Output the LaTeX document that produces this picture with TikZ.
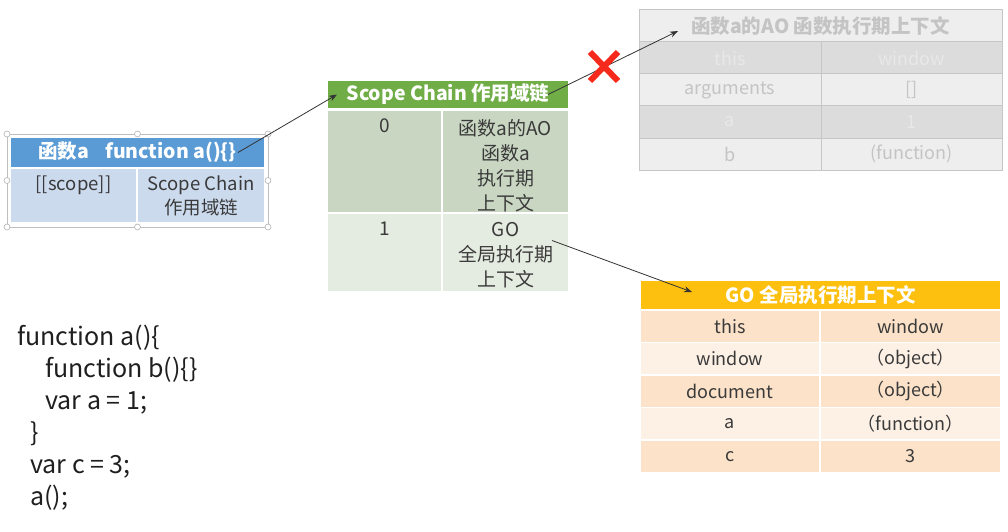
\documentclass[tikz,border=0pt]{standalone}
\usepackage{fontspec}
\setmainfont{Noto Sans CJK SC}
\usetikzlibrary{arrows.meta,positioning}
\definecolor{fablue}{HTML}{5B9BD5}
\definecolor{fabody}{HTML}{CCDAEE}
\definecolor{scgreen}{HTML}{70AD47}
\definecolor{scdark}{HTML}{C9D6C2}
\definecolor{sclight}{HTML}{E4EBE0}
\definecolor{aodark}{HTML}{DCDCDC}
\definecolor{aolight}{HTML}{EEEEEE}
\definecolor{aoline}{HTML}{C6C6C6}
\definecolor{aotext}{HTML}{C4C4C4}
\definecolor{aofaint}{HTML}{E8E8E8}
\definecolor{goyellow}{HTML}{FDC00F}
\definecolor{gopeach}{HTML}{FBE2C8}
\definecolor{golight}{HTML}{FDF1E6}
\definecolor{ink}{HTML}{3A3A3A}
\definecolor{crossred}{HTML}{F5291C}

\tikzset{
  cell/.style={anchor=north west, inner sep=0pt, outer sep=0pt, draw=white, line width=1.5pt, text=ink, font=\fontsize{18}{24}\selectfont},
  head/.style={cell, text=white, font=\fontsize{19.5}{22}\selectfont\bfseries},
  aocell/.style={cell, draw=aoline, line width=1pt},
  lbl/.style={inner sep=0pt, align=center, text=ink, font=\fontsize{19}{25}\selectfont},
  codeline/.style={anchor=base west, inner sep=0pt, text=black!88, font=\fontsize{25}{32}\selectfont},
  arr/.style={-{Stealth[length=8pt,width=6pt]}, draw=black!80, line width=0.8pt},
  handle/.style={circle, draw=black!30, fill=white, inner sep=0pt, minimum size=6pt, line width=0.6pt}
}

\begin{document}
\begin{tikzpicture}[x=1pt,y=-1pt]
\fill[white] (0,0) rectangle (1008,532);
\useasboundingbox (0,0) rectangle (1008,532);

\node[head, fill=fablue, minimum width=255, minimum height=31] (fahead) at (10,137) {函数a\hspace{16pt}function a()\{\}};
\node[cell, fill=fabody, minimum width=127, minimum height=55] (fascope) at (10,168) {};
\node[cell, fill=fabody, minimum width=128, minimum height=55] (fachain) at (137,168) {};
\node[lbl, font=\fontsize{18.5}{24}\selectfont, below=8pt of fascope.north] {[[scope]]};
\node[lbl, font=\fontsize{18.5}{24}\selectfont, below=8pt of fachain.north] {Scope Chain\\作用域链};
\draw[black!25, line width=0.6pt] (7,134) rectangle (268,227);
\foreach \hx/\hy in {7/134, 137.5/134, 268/134, 7/180.5, 268/180.5, 7/227, 137.5/227, 268/227}
  \node[handle] at (\hx,\hy) {};

\node[head, fill=scgreen, minimum width=242, minimum height=29] (schead) at (327,80) {Scope Chain 作用域链};
\node[cell, fill=scdark, minimum width=115, minimum height=103] (sczero) at (327,110) {};
\node[cell, fill=scdark, minimum width=127, minimum height=103] (scao) at (442,110) {};
\node[cell, fill=sclight, minimum width=115, minimum height=79] (scone) at (327,213) {};
\node[cell, fill=sclight, minimum width=127, minimum height=79] (scgo) at (442,213) {};
\node[lbl, below=9pt of sczero.north] {0};
\node[lbl, below=9pt of scao.north] {函数a的AO\\函数a\\执行期\\上下文};
\node[lbl, below=9pt of scone.north] {1};
\node[lbl, below=9pt of scgo.north] {GO\\全局执行期\\上下文};

\node[aocell, fill=aolight, text=aotext, font=\fontsize{19.5}{22}\selectfont\bfseries, minimum width=363, minimum height=32] (aohead) at (639,10) {函数a的AO 函数执行期上下文};
\foreach \l/\r/\f/\t [count=\i from 0] in {this/window/aodark/aofaint, arguments/[]/aolight/aotext, a/1/aodark/aofaint, b/(function)/aolight/aotext} {
  \node[aocell, fill=\f, text=\t, minimum width=182, minimum height=32] (aol\i) at (639,42+32*\i) {\l};
  \node[aocell, fill=\f, text=\t, minimum width=181, minimum height=32] (aor\i) at (821,42+32*\i) {\r};
}

\node[head, fill=goyellow, minimum width=361, minimum height=30] (gohead) at (640,280) {GO 全局执行期上下文};
\foreach \l/\r/\f [count=\i from 0] in {this/window/gopeach, window/（object）/golight, document/（object）/gopeach, a/（function）/golight, c/3/gopeach} {
  \node[cell, fill=\f, minimum width=180, minimum height=32.5] (gol\i) at (640,310+32.5*\i) {\l};
  \node[cell, fill=\f, minimum width=181, minimum height=32.5] (gor\i) at (820,310+32.5*\i) {\r};
}

\draw[arr] ([xshift=-27pt]fahead.east) -- ([xshift=10pt]schead.west);
\draw[arr] ([xshift=-21pt]schead.east) -- ([xshift=39pt,yshift=-5pt]aohead.west);
\draw[arr] ([xshift=-17pt,yshift=12pt]scgo.east) -- ([xshift=52pt,yshift=3pt]gohead.west);

\draw[crossred, line width=6pt] (590,52) -- (618,81) (618,52) -- (590,81);

\foreach \t/\ind [count=\i from 0] in {{function a()\{}/0, {function b()\{\}}/28, {var a = 1;}/28, {\}}/13, {var c = 3;}/13, {a();}/13}
  \node[codeline] (code\i) at (17+\ind,345+32*\i) {\t};
\end{tikzpicture}
\end{document}
